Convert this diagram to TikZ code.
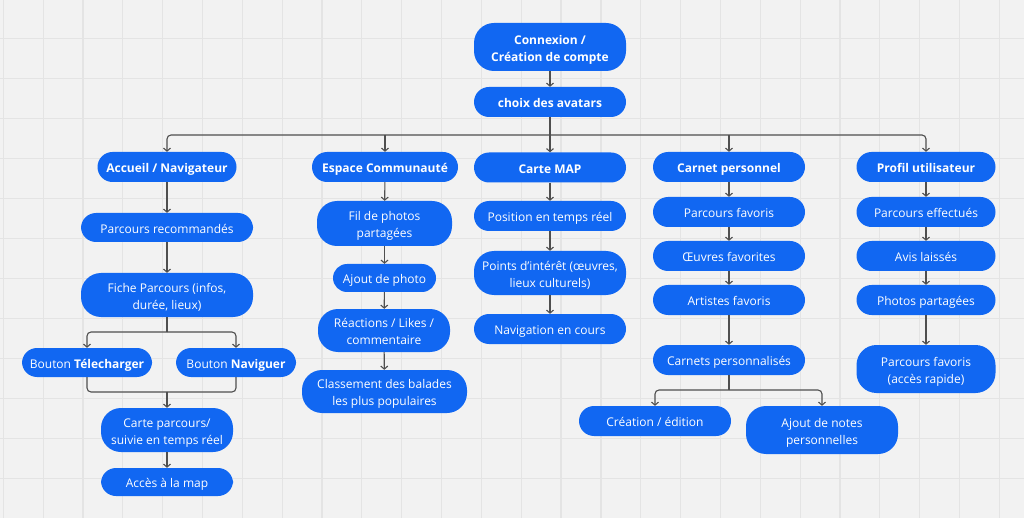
\documentclass[tikz,border=0pt]{standalone}
\usepackage{fontspec}
\setmainfont{Open Sans}
\usetikzlibrary{arrows.meta}
\definecolor{bgc}{HTML}{F2F2F2}
\definecolor{gridc}{HTML}{E4E4E4}
\definecolor{boxc}{HTML}{1167F2}
\definecolor{linec}{HTML}{4F4F4F}
\newcommand\sttop{\rule{0pt}{14.6pt}}
\newcommand\stbot{\rule[-3pt]{0pt}{3pt}}
\newcommand\twol[2]{\sttop#1\\#2\stbot}
\tikzset{
  box/.style={fill=boxc, text=white, inner sep=0pt, align=center,
    font=\fontsize{12}{16.7}\selectfont, minimum height=30pt, rounded corners=15pt},
  one/.style={execute at begin node=\sttop, execute at end node=\stbot},
  ttl/.style={font=\bfseries\fontsize{12}{16.7}\selectfont},
  tall/.style={minimum height=#1, rounded corners=20pt},
  arr/.style={draw=linec, line width=1.1pt, -{Straight Barb[length=3pt,width=7pt]}},
  ln/.style={draw=linec, line width=1.1pt},
}
\begin{document}
\begin{tikzpicture}[x=1pt,y=-1pt]
\useasboundingbox (0,0) rectangle (1024,518);
\fill[bgc] (0,0) rectangle (1024,518);
\foreach \k in {0,...,25} \draw[gridc, line width=1.2pt] ({3.3+39.84*\k},0) -- ({3.3+39.84*\k},518);
\foreach \k in {1,...,13} \draw[gridc, line width=1.2pt] (0,{-1.7+40*\k}) -- (1024,{-1.7+40*\k});

% top
\node[box, ttl, tall=48pt, minimum width=152pt] (conn) at (550,47) {\twol{Connexion /}{Création de compte}};
\node[box, one, ttl, minimum width=152pt] (choix) at (550,102) {choix des avatars};

% titles
\node[box, one, ttl, minimum width=139pt] (acc) at (167,167) {Accueil / Navigateur};
\node[box, one, ttl, minimum width=146pt] (esp) at (385,167) {Espace Communauté};
\node[box, one, ttl, minimum width=152pt] (map) at (550,167.5) {Carte MAP};
\node[box, one, ttl, minimum width=152pt] (car) at (729,167) {Carnet personnel};
\node[box, one, ttl, minimum width=139pt] (pro) at (926,167) {Profil utilisateur};

% column 1
\node[box, one, minimum width=172pt, minimum height=29pt] (rec) at (167,227.5) {Parcours recommandés};
\node[box, tall=44pt, minimum width=172pt] (fiche) at (167,295) {\twol{Fiche Parcours (infos,}{durée, lieux)}};
\node[box, one, minimum width=130pt, minimum height=29pt] (tel) at (87,362.5) {Bouton \textbf{Télecharger}};
\node[box, one, minimum width=120pt, minimum height=29pt] (nav) at (236,362.5) {Bouton \textbf{Naviguer}};
\node[box, tall=44pt, minimum width=132pt] (cp) at (167,430) {\twol{Carte parcours/}{suivie en temps réel}};
\node[box, one, minimum width=132pt, minimum height=28pt] (acces) at (167,482) {Accès à la map};

% column 2
\node[box, tall=45pt, minimum width=135pt] (fil) at (384.5,223.5) {\twol{Fil de photos}{partagées}};
\node[box, one, minimum width=103pt, minimum height=28pt, rounded corners=14pt] (ajout) at (384.5,278) {Ajout de photo};
\node[box, tall=43pt, minimum width=132pt] (reac) at (384,330.5) {\twol{Réactions / Likes /}{commentaire}};
\node[box, tall=43pt, minimum width=165pt] (class) at (384.5,391.5) {\twol{Classement des balades}{les plus populaires}};

% column 3
\node[box, one, minimum width=152pt] (pos) at (550,216) {Position en temps réel};
\node[box, tall=44pt, minimum width=152pt] (poi) at (550,273) {\twol{Points d’intérêt (œuvres,}{lieux culturels)}};
\node[box, one, minimum width=152pt] (navc) at (550,329) {Navigation en cours};

% column 4
\node[box, one, minimum width=152pt] (pf) at (729,212) {Parcours favoris};
\node[box, one, minimum width=152pt] (oe) at (729,256) {Œuvres favorites};
\node[box, one, minimum width=152pt] (art) at (729,300) {Artistes favoris};
\node[box, one, minimum width=152pt] (cpers) at (729,360) {Carnets personnalisés};
\node[box, one, minimum width=152pt] (crea) at (655,421) {Création / édition};
\node[box, tall=48pt, minimum width=152pt] (notes) at (822,430) {\twol{Ajout de notes}{personnelles}};

% column 5
\node[box, one, minimum width=139pt] (eff) at (926,212) {Parcours effectués};
\node[box, one, minimum width=139pt] (avis) at (926,256) {Avis laissés};
\node[box, one, minimum width=139pt] (photos) at (926,300) {Photos partagées};
\node[box, tall=48pt, minimum width=139pt] (pfav) at (926,369) {\twol{Parcours favoris}{(accès rapide)}};

% connectors
\coordinate (hub) at (550,135);
\draw[arr] (conn) -- (choix);
\draw[arr] (choix) -- (map);
\draw[arr, rounded corners=4pt] (hub) -| (acc.north);
\draw[arr, rounded corners=4pt] (hub) -| (pro.north);
\draw[arr] (esp.north |- hub) -- (esp.north);
\draw[arr] (car.north |- hub) -- (car.north);

\draw[arr] (acc) -- (rec);
\draw[arr] (rec) -- (fiche);
\coordinate (s1) at (167,332);
\draw[ln] (fiche.south) -- (s1);
\draw[arr, rounded corners=4pt] (s1) -| (tel.north);
\draw[arr, rounded corners=4pt] (s1) -| (nav.north);
\coordinate (m1) at (167,392);
\draw[ln, rounded corners=4pt] (tel.south) |- (m1);
\draw[ln, rounded corners=4pt] (nav.south) |- (m1);
\draw[arr] (m1) -- (cp.north);
\draw[arr] (cp) -- (acces);

\draw[arr] (esp) -- (fil);
\draw[arr] (fil) -- (ajout);
\draw[arr] (ajout) -- (reac);
\draw[arr] (reac) -- (class);

\draw[arr] (map) -- (pos);
\draw[arr] (pos) -- (poi);
\draw[arr] (poi) -- (navc);

\draw[arr] (car) -- (pf);
\draw[arr] (pf) -- (oe);
\draw[arr] (oe) -- (art);
\draw[arr] (art) -- (cpers);
\coordinate (s2) at (729,390);
\draw[ln] (cpers.south) -- (s2);
\draw[arr, rounded corners=4pt] (s2) -| (crea.north);
\draw[arr, rounded corners=4pt] (s2) -| (notes.north);

\draw[arr] (pro) -- (eff);
\draw[arr] (eff) -- (avis);
\draw[arr] (avis) -- (photos);
\draw[arr] (photos) -- (pfav);
\end{tikzpicture}
\end{document}
